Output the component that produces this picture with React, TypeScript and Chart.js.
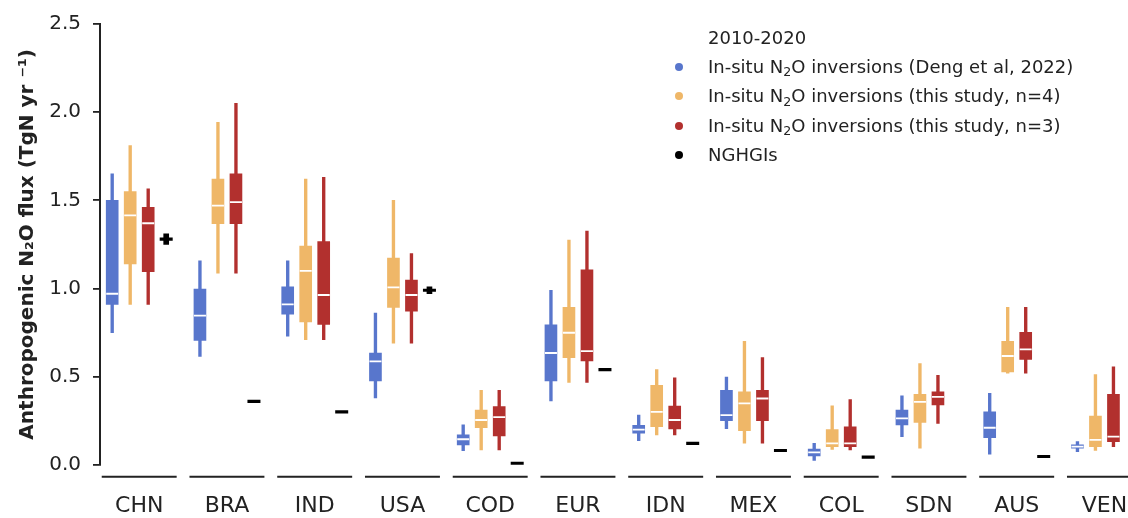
import { useEffect, useRef } from 'react';
import { Chart, registerables } from 'chart.js';

Chart.register(...registerables);

// ---------- data ----------
const categories = ['CHN', 'BRA', 'IND', 'USA', 'COD', 'EUR', 'IDN', 'MEX', 'COL', 'SDN', 'AUS', 'VEN'];
const yTicks = [0, 0.5, 1.0, 1.5, 2.0, 2.5];

// In-situ N2O inversions (Deng et al, 2022)
const dengMin = [0.75, 0.615, 0.73, 0.38, 0.08, 0.363, 0.137, 0.205, 0.025, 0.16, 0.06, 0.075];
const dengQ1 = [0.91, 0.705, 0.855, 0.476, 0.113, 0.476, 0.179, 0.25, 0.05, 0.226, 0.154, 0.094];
const dengMed = [0.97, 0.846, 0.91, 0.587, 0.145, 0.634, 0.2, 0.282, 0.07, 0.263, 0.21, 0.103];
const dengQ3 = [1.5, 0.997, 1.01, 0.634, 0.17, 0.794, 0.224, 0.423, 0.089, 0.31, 0.3, 0.113];
const dengMax = [1.65, 1.157, 1.157, 0.86, 0.226, 0.99, 0.282, 0.498, 0.122, 0.391, 0.405, 0.132];

// In-situ N2O inversions (this study, n=4)
const n4Min = [0.91, 1.087, 0.71, 0.69, 0.085, 0.467, 0.169, 0.122, 0.087, 0.094, 0.52, 0.081];
const n4Q1 = [1.14, 1.367, 0.81, 0.893, 0.21, 0.608, 0.216, 0.194, 0.103, 0.241, 0.527, 0.103];
const n4Med = [1.415, 1.47, 1.1, 1.006, 0.254, 0.749, 0.3, 0.348, 0.122, 0.357, 0.617, 0.141];
const n4Q3 = [1.55, 1.62, 1.24, 1.172, 0.31, 0.893, 0.451, 0.414, 0.2, 0.4, 0.7, 0.277];
const n4Max = [1.81, 1.943, 1.62, 1.5, 0.423, 1.274, 0.54, 0.7, 0.335, 0.574, 0.893, 0.512];

// In-situ N2O inversions (this study, n=3)
const n3Min = [0.91, 1.087, 0.71, 0.69, 0.085, 0.467, 0.169, 0.122, 0.085, 0.235, 0.52, 0.103];
const n3Q1 = [1.095, 1.367, 0.796, 0.871, 0.164, 0.589, 0.203, 0.25, 0.103, 0.339, 0.598, 0.131];
const n3Med = [1.37, 1.49, 0.963, 0.963, 0.27, 0.645, 0.254, 0.376, 0.122, 0.385, 0.655, 0.16];
const n3Q3 = [1.46, 1.65, 1.266, 1.048, 0.33, 1.106, 0.333, 0.423, 0.216, 0.414, 0.752, 0.4];
const n3Max = [1.565, 2.05, 1.63, 1.198, 0.423, 1.326, 0.493, 0.608, 0.37, 0.508, 0.893, 0.555];

// NGHGIs
const nghgi = [1.28, 0.36, 0.3, 0.99, 0.008, 0.54, 0.122, 0.081, 0.043, null, 0.047, null];
const nghgiLo = [1.25, null, null, 0.97, null, null, null, null, null, null, null, null];
const nghgiHi = [1.31, null, null, 1.01, null, null, null, null, null, null, null, null];

const legendTitle = '2010-2020';
const legendLabels = [
  'In-situ N₂O inversions (Deng et al, 2022)',
  'In-situ N₂O inversions (this study, n=4)',
  'In-situ N₂O inversions (this study, n=3)',
  'NGHGIs',
];
const yTitle = 'Anthropogenic N₂O flux (TgN yr ⁻¹)';

// ---------- styles ----------
const COLORS = ['#5876cc', '#efb768', '#b2302e', '#000000'];
const OFFSETS = [-0.3077, -0.1026, 0.1026, 0.3077];
const SEG_Y = -0.068;
const SEG_HALF = 0.427;
const TEXT = '#222222';
const FONT = "'DejaVu Sans', sans-serif";
const CANVAS_W = 1170; // wider than the 1128 view; the right edge is cropped like the reference
const CANVAS_H = 518;

function renderLabel(s: string) {
  const parts = s.split('₂');
  if (parts.length === 1) return s;
  return (
    <>
      {parts[0]}
      <span style={{ fontSize: '0.7em', position: 'relative', top: '0.3em' }}>2</span>
      {parts[1]}
    </>
  );
}

export default function App() {
  const ref = useRef<HTMLCanvasElement>(null);

  useEffect(() => {
    document.body.style.margin = '0';
    const canvas = ref.current;
    if (!canvas) return;

    const series = [
      { min: dengMin, q1: dengQ1, med: dengMed, q3: dengQ3, max: dengMax },
      { min: n4Min, q1: n4Q1, med: n4Med, q3: n4Q3, max: n4Max },
      { min: n3Min, q1: n3Q1, med: n3Med, q3: n3Q3, max: n3Max },
    ];

    const datasets: any[] = [];
    series.forEach((s, k) => {
      const off = OFFSETS[k];
      datasets.push({
        type: 'scatter',
        label: legendLabels[k] + ' median',
        data: categories.map((_, i) => ({ x: i + off, y: s.med[i] })),
        pointStyle: 'line',
        pointRadius: 6,
        pointHoverRadius: 6,
        pointBorderColor: '#ffffff',
        pointBorderWidth: 1.8,
        showLine: false,
        order: 0,
      });
      datasets.push({
        type: 'bar',
        label: legendLabels[k],
        data: categories.map((_, i) => ({ x: i + off, y: [s.q1[i], s.q3[i]] })),
        backgroundColor: COLORS[k],
        borderWidth: 0,
        barThickness: 12,
        grouped: false,
        order: 3,
      });
      datasets.push({
        type: 'bar',
        label: legendLabels[k] + ' range',
        data: categories.map((_, i) => ({ x: i + off, y: [s.min[i], s.max[i]] })),
        backgroundColor: COLORS[k],
        borderWidth: 0,
        barThickness: 2.7,
        grouped: false,
        order: 4,
      });
    });

    datasets.push({
      type: 'scatter',
      label: legendLabels[3],
      data: categories.map((_, i) => ({ x: i + OFFSETS[3], y: nghgi[i] })),
      pointStyle: 'line',
      pointRadius: 6.5,
      pointHoverRadius: 6.5,
      pointBorderColor: COLORS[3],
      pointBorderWidth: 3.2,
      showLine: false,
      order: 1,
    });
    datasets.push({
      type: 'bar',
      label: legendLabels[3] + ' range',
      data: categories.map((_, i) => ({
        x: i + OFFSETS[3],
        y: nghgiLo[i] == null ? null : [nghgiLo[i], nghgiHi[i]],
      })),
      backgroundColor: COLORS[3],
      borderWidth: 0,
      barThickness: 5,
      grouped: false,
      order: 2,
    });
    datasets.push({
      type: 'line',
      label: 'axis segments',
      data: categories.flatMap((_, i) => [
        { x: i - SEG_HALF, y: SEG_Y },
        { x: i + SEG_HALF, y: SEG_Y },
        { x: i + 0.5, y: null },
      ]),
      borderColor: TEXT,
      borderWidth: 2,
      pointRadius: 0,
      spanGaps: false,
      clip: false,
      order: 5,
    });

    const chart = new Chart(canvas, {
      type: 'bar',
      data: { datasets },
      options: {
        animation: false,
        responsive: false,
        maintainAspectRatio: false,
        devicePixelRatio: 1,
        events: [],
        layout: { autoPadding: false, padding: { top: 22, right: 0, bottom: 0, left: 0 } },
        plugins: { legend: { display: false }, tooltip: { enabled: false } },
        scales: {
          x: {
            type: 'linear',
            min: -0.4467,
            max: 11.747,
            offset: false,
            afterBuildTicks: (scale: any) => {
              scale.ticks = categories.map((_, i) => ({ value: i }));
            },
            afterFit: (scale: any) => {
              scale.height = 53.2;
            },
            ticks: {
              autoSkip: false,
              maxRotation: 0,
              padding: 29,
              color: TEXT,
              font: { family: FONT, size: 22, lineHeight: 1.1 },
              callback: (v: any) => categories[Math.round(Number(v))] ?? '',
            },
            grid: { display: false, drawTicks: false },
            border: { display: false },
          },
          y: {
            type: 'linear',
            min: 0,
            max: 2.5,
            afterBuildTicks: (scale: any) => {
              scale.ticks = yTicks.map((v) => ({ value: v }));
            },
            afterFit: (scale: any) => {
              scale.width = 100;
            },
            ticks: {
              padding: 12,
              color: TEXT,
              font: { family: FONT, size: 20 },
              callback: (v: any) => Number(v).toFixed(1),
            },
            grid: { drawOnChartArea: false, drawTicks: true, tickLength: 7, color: TEXT, lineWidth: 1.8 },
            border: { display: true, color: TEXT, width: 2 },
            title: {
              display: true,
              text: yTitle,
              color: TEXT,
              font: { family: FONT, size: 20, weight: 'bold' },
              padding: { top: 16, bottom: 0 },
            },
          },
        },
      } as any,
    });

    return () => chart.destroy();
  }, []);

  const rowTops = [55.7, 85.2, 114.7, 144];

  return (
    <div style={{ position: 'absolute', left: 0, top: 0, width: 1128, height: 518, overflow: 'hidden', background: '#fff' }}>
      <canvas ref={ref} width={CANVAS_W} height={CANVAS_H} style={{ display: 'block' }} />
      <div style={{ position: 'absolute', left: 0, top: 0, fontFamily: FONT, fontSize: 18, color: TEXT, lineHeight: '22px' }}>
        <div style={{ position: 'absolute', left: 708, top: 27, whiteSpace: 'nowrap' }}>{legendTitle}</div>
        {legendLabels.map((lab, k) => (
          <div key={k}>
            <div
              style={{
                position: 'absolute',
                left: 674.5,
                top: rowTops[k] + 7,
                width: 8,
                height: 8,
                borderRadius: '50%',
                background: COLORS[k],
              }}
            />
            <div style={{ position: 'absolute', left: 708, top: rowTops[k], whiteSpace: 'nowrap' }}>{renderLabel(lab)}</div>
          </div>
        ))}
      </div>
    </div>
  );
}
